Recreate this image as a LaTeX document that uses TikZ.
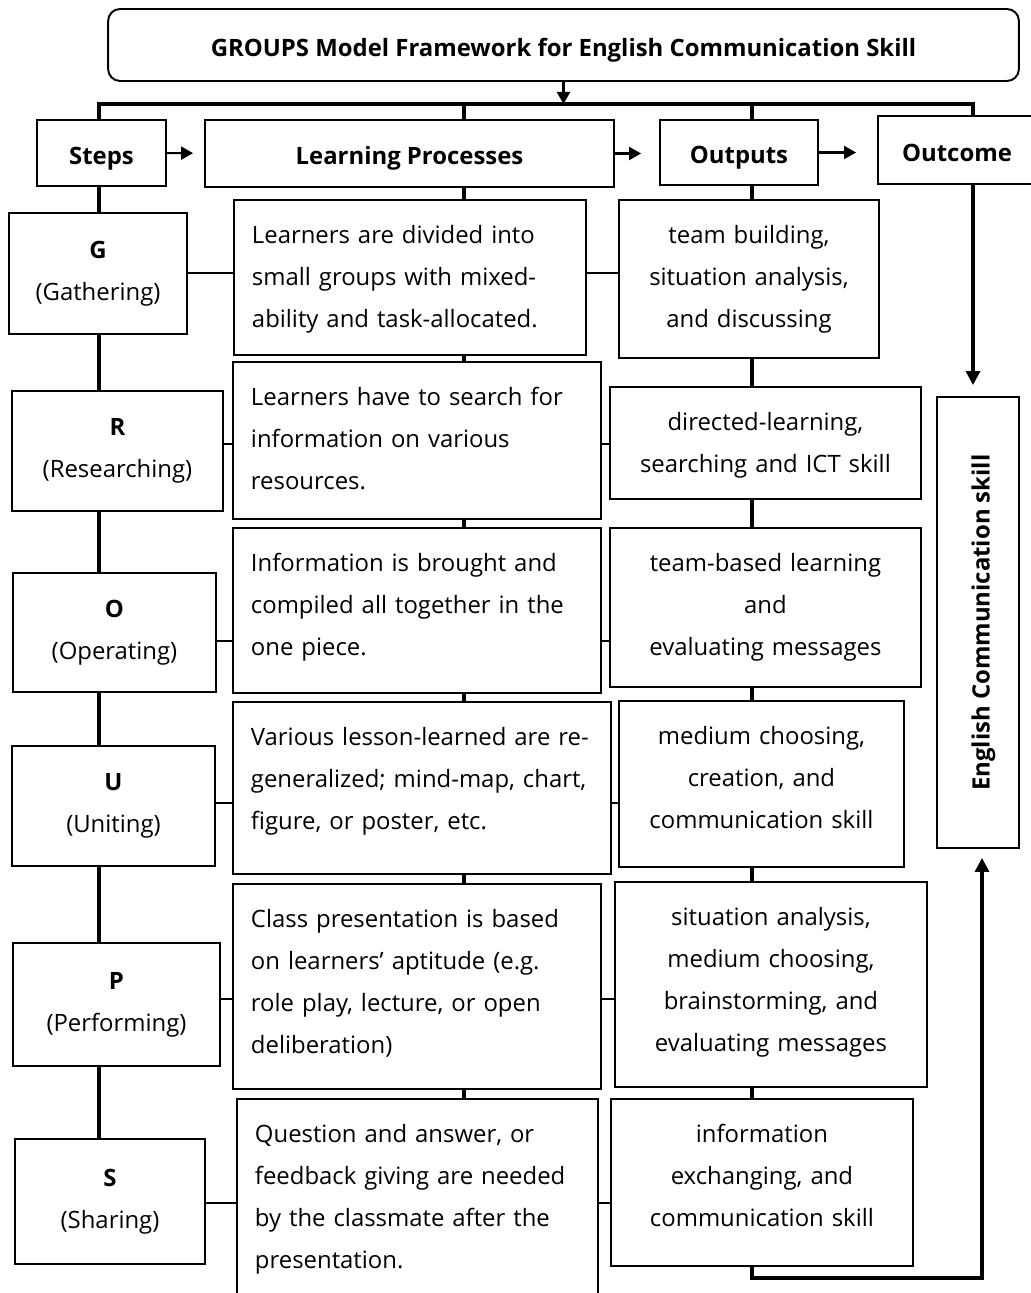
\documentclass[tikz,border=0pt]{standalone}
\usepackage{fontspec}
\setmainfont{Open Sans}
\usetikzlibrary{arrows.meta}

\newcommand\bodysize{\fontsize{13.6pt}{23.9pt}\selectfont}

\begin{document}
\begin{tikzpicture}[
    x=0.02cm, y=-0.02cm,
    font=\bodysize,
    frame/.style={draw, line width=1.1pt, inner sep=0pt},
    head/.style={frame, font=\bodysize\bfseries, text height=0.46cm, text depth=0pt},
    stepbox/.style={frame, align=center},
    procbox/.style={frame, anchor=north west, align=left, inner xsep=0.36cm, inner ysep=0pt, text height=0.88cm},
    outbox/.style={procbox, align=center},
    vlink/.style={line width=1.8pt},
    hlink/.style={line width=1.4pt},
    arrow/.style={-{Triangle[length=0.24cm, width=0.26cm]}, line width=1.2pt},
    bigarrow/.style={-{Triangle[length=0.28cm, width=0.28cm]}, line width=1.8pt}
]
\useasboundingbox (0,0) rectangle (1030,1293);

% title and column heads
\node[head, rounded corners=0.24cm, minimum width=18.22cm, minimum height=1.44cm] (title) at (563.5,45) {GROUPS Model Framework for English Communication Skill};
\node[head, minimum width=2.58cm, minimum height=1.32cm] (steps) at (101.5,153) {Steps};
\node[head, minimum width=8.18cm, minimum height=1.34cm] (lp) at (409.5,153.5) {Learning Processes};
\node[head, minimum width=3.16cm, minimum height=1.30cm] (out) at (739,152.5) {Outputs};
\node[head, minimum width=3.16cm, minimum height=1.36cm] (outcome) at (957,150) {Outcome};

% steps
\node[stepbox, minimum width=3.56cm, minimum height=2.42cm] (g) at (98,273.5) {\textbf{G}\\(Gathering)};
\node[stepbox, minimum width=4.22cm, minimum height=2.40cm] (r) at (117.5,451) {\textbf{R}\\(Researching)};
\node[stepbox, minimum width=4.06cm, minimum height=2.38cm] (o) at (114.5,632.5) {\textbf{O}\\(Operating)};
\node[stepbox, minimum width=4.06cm, minimum height=2.40cm] (u) at (113.5,806) {\textbf{U}\\(Uniting)};
\node[stepbox, minimum width=4.14cm, minimum height=2.46cm] (p) at (116.5,1004.5) {\textbf{P}\\(Performing)};
\node[stepbox, minimum width=3.80cm, minimum height=2.50cm] (s) at (110,1201.5) {\textbf{S}\\(Sharing)};

% learning processes
\node[procbox, text width=6.32cm, text depth=2.22cm] (lp1) at (233,199) {Learners are divided into\\small groups with mixed-\\ability and task-allocated.};
\node[procbox, text width=6.64cm, text depth=2.26cm] (lp2) at (232,361) {Learners have to search for\\information on various\\resources.};
\node[procbox, text width=6.64cm, text depth=2.42cm] (lp3) at (232,527) {Information is brought and\\compiled all together in the\\one piece.};
\node[procbox, text width=6.84cm, text depth=2.56cm] (lp4) at (232,701) {Various lesson-learned are re-\\generalized; mind-map, chart,\\figure, or poster, etc.};
\node[procbox, text width=6.64cm, text depth=3.22cm] (lp5) at (232,883) {Class presentation is based\\on learners’ aptitude (e.g.\\role play, lecture, or open\\deliberation)};
\node[procbox, text width=6.50cm, text depth=3.36cm] (lp6) at (236,1098) {Question and answer, or\\feedback giving are needed\\by the classmate after the\\presentation.};

% outputs
\node[outbox, text width=4.48cm, text depth=2.28cm] (out1) at (618,199) {team building,\\situation analysis,\\and discussing};
\node[outbox, text width=5.50cm, text depth=1.36cm] (out2) at (609,386) {directed-learning,\\searching and ICT skill};
\node[outbox, text width=5.50cm, text depth=2.30cm] (out3) at (609,527) {team-based learning\\and\\evaluating messages};
\node[outbox, text width=4.98cm, text depth=2.44cm] (out4) at (618,700) {medium choosing,\\creation, and\\communication skill};
\node[outbox, text width=5.52cm, text depth=3.22cm] (out5) at (614,881) {situation analysis,\\medium choosing,\\brainstorming, and\\evaluating messages};
\node[outbox, text width=5.32cm, text depth=2.46cm] (out6) at (610,1098) {information\\exchanging, and\\communication skill};

% outcome
\node[head, rotate=90, minimum width=9.02cm, minimum height=1.64cm] (eng) at (978,622.5) {English Communication skill};

\coordinate (colS) at (99,0);
\coordinate (colL) at (464,0);
\coordinate (colO) at (752,0);
\coordinate (colC) at (973,0);
\coordinate (colE) at (982,0);
\coordinate (bus) at (0,104);
\coordinate (loop) at (0,1278);
\coordinate (rowG) at (0,273);
\coordinate (rowR) at (0,444);
\coordinate (rowO) at (0,641);
\coordinate (rowU) at (0,803);
\coordinate (rowP) at (0,999);
\coordinate (rowS) at (0,1203);

% top bus
\draw[arrow] (title.south) -- (title.south |- bus);
\draw[vlink] (colS |- steps.north) |- (colC |- bus) -- (colC |- outcome.north);
\draw[vlink] (colL |- bus) -- (colL |- lp.north) (colO |- bus) -- (colO |- out.north);
\draw[arrow, shorten >=0.22cm] (steps) -- (lp);
\draw[arrow, shorten >=0.36cm] (lp.east) -- (lp.east -| out.west);
\draw[arrow, shorten >=0.42cm] (out.east) -- (out.east -| outcome.west);

% columns
\draw[vlink] (colS |- steps.south) -- (colS |- g.north)
             (colS |- g.south) -- (colS |- r.north)
             (colS |- r.south) -- (colS |- o.north)
             (colS |- o.south) -- (colS |- u.north)
             (colS |- u.south) -- (colS |- p.north)
             (colS |- p.south) -- (colS |- s.north);
\draw[vlink] (colL |- lp.south) -- (colL |- lp1.north)
             (colL |- lp1.south) -- (colL |- lp2.north)
             (colL |- lp2.south) -- (colL |- lp3.north)
             (colL |- lp3.south) -- (colL |- lp4.north)
             (colL |- lp4.south) -- (colL |- lp5.north)
             (colL |- lp5.south) -- (colL |- lp6.north);
\draw[vlink] (colO |- out.south) -- (colO |- out1.north)
             (colO |- out1.south) -- (colO |- out2.north)
             (colO |- out2.south) -- (colO |- out3.north)
             (colO |- out3.south) -- (colO |- out4.north)
             (colO |- out4.south) -- (colO |- out5.north)
             (colO |- out5.south) -- (colO |- out6.north);

% rows
\draw[hlink] (g.east |- rowG) -- (lp1.west |- rowG) (lp1.east |- rowG) -- (out1.west |- rowG);
\draw[hlink] (r.east |- rowR) -- (lp2.west |- rowR) (lp2.east |- rowR) -- (out2.west |- rowR);
\draw[hlink] (o.east |- rowO) -- (lp3.west |- rowO) (lp3.east |- rowO) -- (out3.west |- rowO);
\draw[hlink] (u.east |- rowU) -- (lp4.west |- rowU) (lp4.east |- rowU) -- (out4.west |- rowU);
\draw[hlink] (p.east |- rowP) -- (lp5.west |- rowP) (lp5.east |- rowP) -- (out5.west |- rowP);
\draw[hlink] (s.east |- rowS) -- (lp6.west |- rowS) (lp6.east |- rowS) -- (out6.west |- rowS);

% outcome arrows
\draw[bigarrow, shorten >=0.22cm] (colC |- outcome.south) -- (colC |- eng.east);
\draw[bigarrow, shorten >=0.18cm] (colO |- out6.south) -- (colO |- loop) -- (colE |- loop) -- (colE |- eng.west);

\end{tikzpicture}
\end{document}
